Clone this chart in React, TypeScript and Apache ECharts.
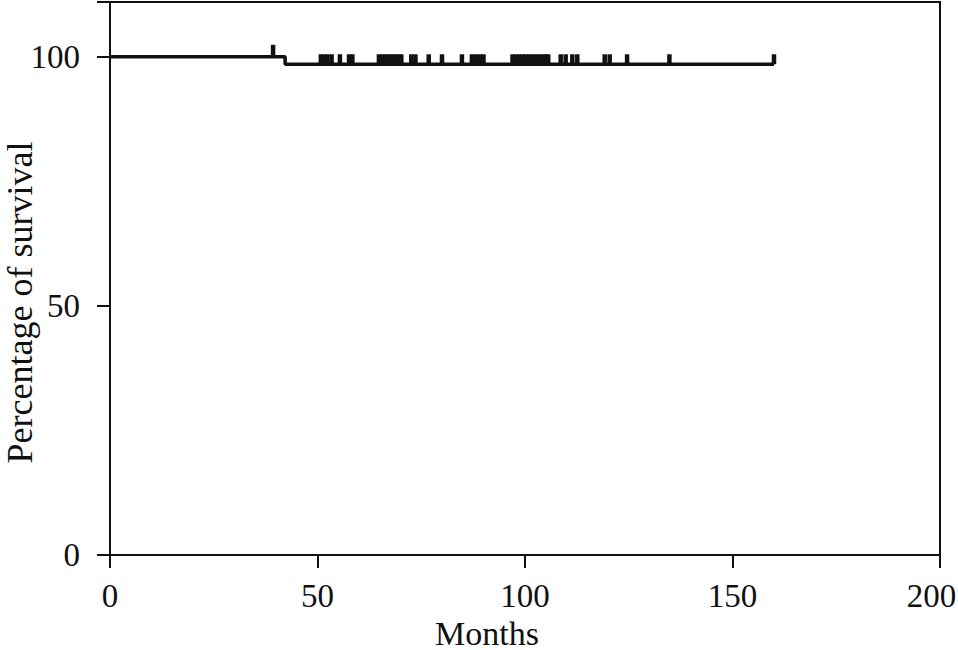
import React, { useEffect, useRef } from "react";
import * as echarts from "echarts";

const xTicks = [0, 50, 100, 150, 200];
const yTicks = [0, 50, 100];
// Kaplan-Meier step curve (months, % survival)
const curveMonths = [0, 42.2, 42.2, 160];
const curveSurvival = [100, 100, 98.5, 98.5];
// censored observations
const censorAt100 = [39.3];
const censorAt985 = [
  50.8, 51.6, 52.4, 53.4, 55.4, 57.6, 58.4,
  64.8, 65.6, 66.4, 67.2, 68.0, 68.8, 69.6, 70.2,
  72.6, 73.6, 76.8, 80.0, 84.8, 87.2, 88.2, 89.2, 90.0,
  97.0, 97.8, 98.6, 99.4, 100.2, 101.0, 101.8, 102.6, 103.4, 104.2, 105.0, 105.6,
  108.6, 109.8, 111.4, 112.6,
  119.2, 120.4, 124.6, 134.8, 160.0,
];

const FONT = "'Liberation Serif', 'DejaVu Serif', serif";
const INK = "#111";

export default function App() {
  const ref = useRef<HTMLDivElement>(null);
  useEffect(() => {
    if (!ref.current) return;
    const chart = echarts.init(ref.current, undefined, { renderer: "svg" });
    const xMax = xTicks[xTicks.length - 1];
    chart.setOption({
      animation: false,
      backgroundColor: "#fff",
      grid: {
        left: 110,
        right: 18,
        top: 2,
        bottom: 95,
        outerBoundsMode: "none",
        containLabel: false,
        show: true,
        borderColor: INK,
        borderWidth: 2,
        backgroundColor: "transparent",
      },
      xAxis: {
        type: "value",
        min: xTicks[0],
        max: xMax,
        interval: 50,
        name: "Months",
        nameLocation: "middle",
        nameGap: 61,
        nameMoveOverlap: false,
        nameTextStyle: {
          fontFamily: FONT,
          fontSize: 34,
          color: INK,
          padding: [0, 76, 0, 0],
        },
        axisLine: { show: true, lineStyle: { color: INK, width: 2 } },
        axisTick: { show: true, length: 13, lineStyle: { color: INK, width: 2 } },
        axisLabel: {
          fontFamily: FONT,
          fontSize: 33,
          color: INK,
          margin: 24,
          formatter: (v: number) => (v === xMax ? "{r|" + v + "}" : String(v)),
          rich: {
            r: { fontFamily: FONT, fontSize: 33, color: INK, padding: [0, 17, 0, 0] },
          },
        },
        splitLine: { show: false },
      },
      yAxis: {
        type: "value",
        min: 0,
        max: 111,
        interval: 50,
        name: "Percentage of survival",
        nameLocation: "middle",
        nameGap: 72,
        nameMoveOverlap: false,
        nameTextStyle: {
          fontFamily: FONT,
          fontSize: 36,
          color: INK,
          padding: [0, 48, 0, 0],
        },
        axisLine: { show: true, lineStyle: { color: INK, width: 2 } },
        axisTick: { show: true, length: 13, lineStyle: { color: INK, width: 2 } },
        axisLabel: {
          fontFamily: FONT,
          fontSize: 33,
          color: INK,
          margin: 30,
          formatter: (v: number) => (yTicks.includes(v) ? String(v) : ""),
        },
        splitLine: { show: false },
      },
      series: [
        {
          type: "line",
          data: curveMonths.map((m, i) => [m, curveSurvival[i]]),
          showSymbol: false,
          lineStyle: { color: INK, width: 3.5 },
          silent: true,
        },
        {
          type: "scatter",
          data: censorAt100.map((m) => [m, 100]),
          symbol: "rect",
          symbolSize: [4.5, 12],
          symbolOffset: [0, -6],
          itemStyle: { color: INK, opacity: 1 },
          silent: true,
        },
        {
          type: "scatter",
          data: censorAt985.map((m) => [m, 98.5]),
          symbol: "rect",
          symbolSize: [4.5, 10],
          symbolOffset: [0, -5],
          itemStyle: { color: INK, opacity: 1 },
          silent: true,
        },
      ],
    });
    return () => chart.dispose();
  }, []);
  return <div ref={ref} style={{ width: 958, height: 650, position: "absolute", left: 0, top: 0 }} />;
}
